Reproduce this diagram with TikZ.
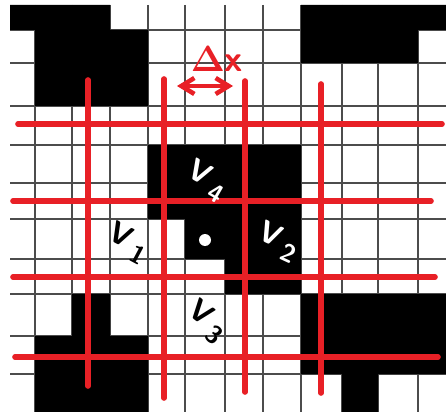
\documentclass[tikz,border=0pt]{standalone}
\usepackage{amsmath}
\usetikzlibrary{arrows.meta}
\definecolor{PenRed}{RGB}{232,32,38}
\tikzset{
  cellline/.style={draw=black!70,line width=0.6pt},
  blackcell/.style={fill=black},
  redline/.style={draw=PenRed,line width=3.2pt,line cap=round},
  darklbl/.style={font=\LARGE\sffamily\bfseries,text=black,inner sep=0pt},
  lightlbl/.style={font=\LARGE\sffamily\bfseries,text=white,inner sep=0pt},
}
\newcommand{\vlbl}[1]{V\kern3.5pt\raisebox{-0.6ex}{\Large #1}}

\begin{document}
\begin{tikzpicture}[x=0.02cm,y=-0.02cm]
  \useasboundingbox (0,0) rectangle (446,412);
  \fill[white] (0,0) rectangle (446,412);
  % grid
  \foreach \gx in {35,72,110,148,185,225,263,301,342,378,418}
    \draw[cellline] (\gx,5) -- (\gx,412);
  \foreach \gy in {30,63,106,145,183,219,259,294,336,374}
    \draw[cellline] (10,\gy) -- (446,\gy);
  % black cells
  \fill[blackcell] (10,5) -- (110,5) -- (110,30) -- (148,30) -- (148,106) -- (35,106) -- (35,30) -- (10,30) -- cycle;
  \fill[blackcell] (301,5) -- (446,5) -- (446,30) -- (418,30) -- (418,63) -- (301,63) -- cycle;
  \fill[blackcell] (148,145) -- (301,145) -- (301,294) -- (225,294) -- (225,259) -- (185,259) -- (185,219) -- (148,219) -- cycle;
  \fill[blackcell] (301,294) -- (446,294) -- (446,374) -- (378,374) -- (378,412) -- (342,412) -- (342,374) -- (301,374) -- cycle;
  \fill[blackcell] (72,294) -- (110,294) -- (110,336) -- (148,336) -- (148,412) -- (35,412) -- (35,336) -- (72,336) -- cycle;
  % red lines
  \foreach \ry/\ra/\rb in {124/18/442,201/13/431,277/13/435,357/15/438}
    \draw[redline] (\ra,\ry) -- (\rb,\ry);
  \foreach \rx/\ra/\rb in {88/80/386,164/79/398,245/81/392,321/84/393}
    \draw[redline] (\rx,\ra) -- (\rx,\rb);
  % step width
  \coordinate (dxl) at (177,86);
  \coordinate (dxr) at (233,86);
  \draw[redline,line width=2.6pt,{Straight Barb[length=2.6mm,width=3.2mm]}-{Straight Barb[length=2.6mm,width=3.2mm]}] (dxl) -- (dxr);
  \node[font=\huge\sffamily\bfseries,text=PenRed,inner sep=0pt] (dxlbl) at (217,59) {$\boldsymbol{\Delta}$x};
  % labels
  \node[lightlbl,rotate=-30] (v4) at (207,181) {\vlbl{4}};
  \node[darklbl,rotate=-28] (v1) at (128,243) {\vlbl{1}};
  \node[lightlbl,rotate=-25] (v2) at (278,242) {\vlbl{2}};
  \node[darklbl,rotate=-38] (v3) at (207,322) {\vlbl{3}};
  \node[circle,fill=white,inner sep=0pt,minimum size=2.4mm] (ctr) at (205,240) {};
\end{tikzpicture}
\end{document}
